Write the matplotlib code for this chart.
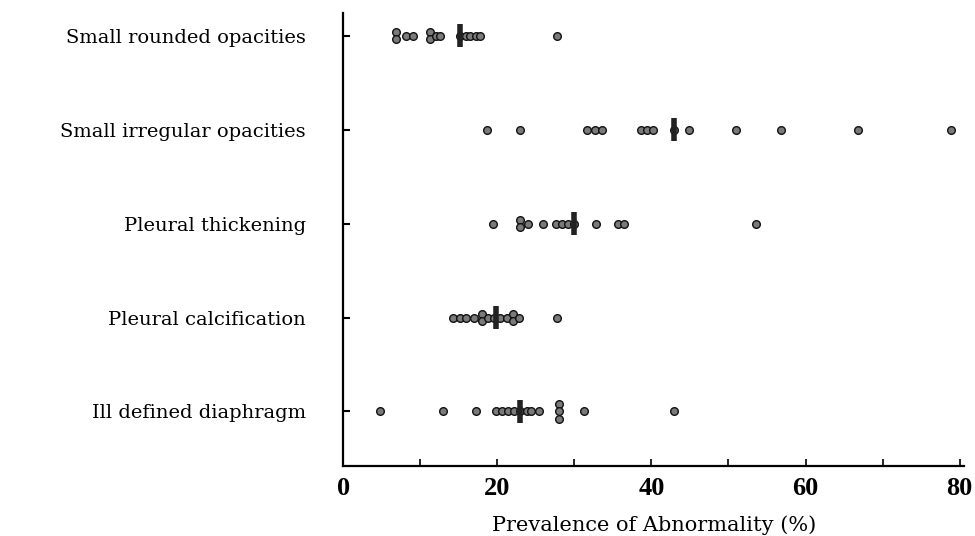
import matplotlib
matplotlib.use("Agg")
import matplotlib.pyplot as plt
import numpy as np

categories = ["Small rounded opacities", "Small irregular opacities",
              "Pleural thickening", "Pleural calcification", "Ill defined diaphragm"]

rounded = [6.8, 6.8, 8.1, 9.0, 11.3, 11.3, 12.0, 12.6, 15.2, 15.9, 16.5, 17.2, 17.8, 27.8]
irregular = [18.7, 23.0, 31.7, 32.7, 33.6, 38.6, 39.4, 40.2, 42.9, 44.9, 51.0, 56.8, 66.8, 78.9]
thickening = [19.5, 23.0, 23.0, 24.0, 25.9, 27.6, 28.4, 29.2, 30.0, 32.8, 35.6, 36.5, 53.6]
calcification = [14.3, 15.1, 16.0, 17.0, 18.0, 18.0, 18.8, 19.6, 20.4, 21.2, 22.0, 22.0, 22.8, 27.8]
diaphragm = [4.8, 13.0, 17.2, 19.8, 20.6, 21.4, 22.2, 23.0, 23.8, 24.4, 25.4, 28.0, 28.0, 28.0, 31.2, 42.9]
medians = [15.2, 42.9, 29.9, 19.8, 23.0]

series = [rounded, irregular, thickening, calcification, diaphragm]
xticks = [0, 20, 40, 60, 80]

fig = plt.figure(figsize=(9.75, 5.36), dpi=100)
ax = fig.add_axes([0.352, 0.1306, 0.637, 0.845])

for i, vals in enumerate(series):
    counts = {}
    ks = []
    for v in vals:
        k = counts.get(v, 0)
        counts[v] = k + 1
        ks.append(k)
    xs = np.array(vals)
    offs = [(k - (counts[v] - 1) / 2) * 0.075 for v, k in zip(vals, ks)]
    ax.plot(xs, i + np.array(offs), 'o', ms=5.5, mfc='#7a7a7a', mec='#111111', mew=1.0,
            zorder=3)
    ax.plot([medians[i], medians[i]], [i - 0.125, i + 0.125], color='#222222', lw=4,
            solid_capstyle='butt', zorder=4)

ax.set_xlim(0, 80.6)
ax.set_ylim(4.58, -0.24)
ax.spines['top'].set_visible(False)
ax.spines['right'].set_visible(False)
ax.spines['left'].set_linewidth(1.6)
ax.spines['bottom'].set_linewidth(1.6)

ax.set_yticks(range(len(categories)))
ax.set_yticklabels(categories, family='DejaVu Serif', fontsize=14)
ax.tick_params(axis='y', direction='in', length=5, width=1.5, pad=27)

ax.set_xticks(xticks)
ax.set_xticklabels([str(t) for t in xticks], family='Liberation Serif',
                   fontweight='bold', fontsize=19)
ax.set_xticks(range(0, 81, 10), minor=True)
ax.tick_params(axis='x', which='both', direction='in', length=5, width=1.2, pad=8)

ax.set_xlabel("Prevalence of Abnormality (%)", family='DejaVu Serif', fontsize=15,
              labelpad=11)

fig.savefig("out.png", dpi=100)
